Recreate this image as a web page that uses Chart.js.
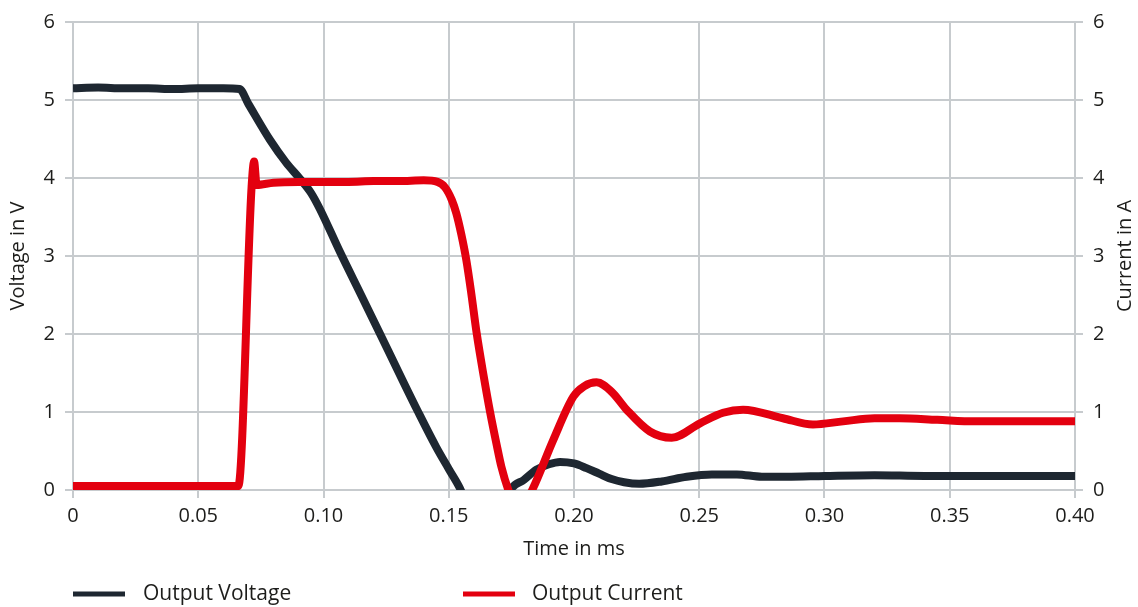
<!DOCTYPE html>
<html>
<head>
<meta charset="utf-8">
<script src="https://cdn.jsdelivr.net/npm/chart.js@4.4.1/dist/chart.umd.min.js"></script>
<style>
  html, body { margin: 0; padding: 0; background: #ffffff; }
  #wrap { width: 1138px; height: 607px; position: relative; }
</style>
</head>
<body>
<div id="wrap"><canvas id="c" width="1138" height="607"></canvas></div>
<script>
// ---- data ----
const voltageTime = [0, 0.01, 0.02, 0.03, 0.04, 0.05, 0.06, 0.0665, 0.0700, 0.0786, 0.0850, 0.0906, 0.0950, 0.0986, 0.1066, 0.1150, 0.1226, 0.1300, 0.1378, 0.1450, 0.1500, 0.1545, 0.1580, 0.1650, 0.1720, 0.1751, 0.1800, 0.1850, 0.1900, 0.1944, 0.2000, 0.2050, 0.2100, 0.2150, 0.2200, 0.2260, 0.2350, 0.2450, 0.2550, 0.2650, 0.2750, 0.2850, 0.3000, 0.3200, 0.3400, 0.3600, 0.3800, 0.4000];
const voltageValues = [5.15, 5.16, 5.15, 5.15, 5.14, 5.15, 5.15, 5.14, 4.95, 4.49, 4.20, 3.99, 3.81, 3.60, 3.05, 2.50, 2.00, 1.51, 1.00, 0.55, 0.27, 0.02, -0.25, -0.40, -0.20, 0.02, 0.13, 0.26, 0.33, 0.36, 0.34, 0.28, 0.21, 0.14, 0.10, 0.08, 0.11, 0.17, 0.20, 0.20, 0.17, 0.17, 0.18, 0.19, 0.18, 0.18, 0.18, 0.18];

const currentTime = [0, 0.01, 0.02, 0.03, 0.04, 0.05, 0.06, 0.0660, 0.0713, 0.0723, 0.0733, 0.0800, 0.0900, 0.1000, 0.1100, 0.1200, 0.1300, 0.1400, 0.1455, 0.1485, 0.1512, 0.1530, 0.1550, 0.1570, 0.1590, 0.1611, 0.1640, 0.1665, 0.1690, 0.1710, 0.1738, 0.1780, 0.1836, 0.1917, 0.1998, 0.2040, 0.2090, 0.2150, 0.2210, 0.2303, 0.2390, 0.2503, 0.2595, 0.2675, 0.2834, 0.2954, 0.3074, 0.3200, 0.3300, 0.3450, 0.3600, 0.3800, 0.4000];
const currentValues = [0.05, 0.05, 0.05, 0.05, 0.05, 0.05, 0.05, 0.05, 3.89, 4.21, 3.91, 3.94, 3.95, 3.95, 3.95, 3.96, 3.96, 3.97, 3.95, 3.88, 3.72, 3.55, 3.28, 2.95, 2.52, 2.02, 1.45, 1.00, 0.60, 0.30, 0.00, -0.30, 0.02, 0.64, 1.20, 1.33, 1.38, 1.26, 1.03, 0.75, 0.67, 0.855, 0.99, 1.03, 0.92, 0.84, 0.88, 0.92, 0.92, 0.90, 0.88, 0.88, 0.88];

const seriesNames = ['Output Voltage', 'Output Current'];
const seriesColors = ['#1e2731', '#e3000f'];
const xTitle = 'Time in ms';
const yLeftTitle = 'Voltage in V';
const yRightTitle = 'Current in A';

// ---- styling ----
const FONT = "'Open Sans', 'Noto Sans', sans-serif";
const TEXT = '#1d1d1b';
const GRID = '#c7cbce';

const toXY = (xs, ys) => xs.map((x, i) => ({ x: x, y: ys[i] }));

const legendPlugin = {
  id: 'bottomLegend',
  afterDraw(chart) {
    const ctx = chart.ctx;
    const items = [
      { x: 73, tx: 143 },
      { x: 463, tx: 532 }
    ];
    const y = 594;
    ctx.save();
    ctx.font = '21px ' + FONT;
    ctx.textBaseline = 'middle';
    ctx.textAlign = 'left';
    chart.data.datasets.forEach((ds, i) => {
      const it = items[i];
      ctx.strokeStyle = ds.borderColor;
      ctx.lineWidth = 5;
      ctx.lineCap = 'butt';
      ctx.beginPath();
      ctx.moveTo(it.x, y);
      ctx.lineTo(it.x + 52, y);
      ctx.stroke();
      ctx.fillStyle = TEXT;
      ctx.fillText(ds.label, it.tx, y);
    });
    // right axis title, reading bottom-to-top like the left one
    const area = chart.chartArea;
    ctx.font = '20px ' + FONT;
    ctx.translate(1125, (area.top + area.bottom) / 2);
    ctx.rotate(-Math.PI / 2);
    ctx.textAlign = 'center';
    ctx.fillText(yRightTitle, 0, 0);
    ctx.restore();
  }
};

new Chart(document.getElementById('c'), {
  type: 'line',
  data: {
    datasets: [
      {
        label: seriesNames[0],
        data: toXY(voltageTime, voltageValues),
        borderColor: seriesColors[0],
        backgroundColor: seriesColors[0],
        borderWidth: 8,
        pointRadius: 0,
        cubicInterpolationMode: 'monotone',
        yAxisID: 'y',
        clip: 0,
        order: 1
      },
      {
        label: seriesNames[1],
        data: toXY(currentTime, currentValues),
        borderColor: seriesColors[1],
        backgroundColor: seriesColors[1],
        borderWidth: 8,
        pointRadius: 0,
        cubicInterpolationMode: 'monotone',
        yAxisID: 'y1',
        clip: 0,
        order: 0
      }
    ]
  },
  options: {
    responsive: false,
    animation: false,
    events: [],
    layout: { padding: { top: 22, bottom: 46, left: 0, right: 0 } },
    plugins: {
      legend: { display: false },
      tooltip: { enabled: false }
    },
    scales: {
      x: {
        type: 'linear',
        min: 0,
        max: 0.4,
        afterFit: (s) => { s.height = 71; },
        grid: { color: GRID, lineWidth: 2, tickLength: 8, drawTicks: true },
        border: { color: GRID, width: 2 },
        ticks: {
          stepSize: 0.05,
          padding: 6,
          color: TEXT,
          font: { family: FONT, size: 20 },
          maxRotation: 0,
          callback: (v) => (Math.abs(v) < 1e-9 ? '0' : Number(v).toFixed(2))
        },
        title: {
          display: true,
          text: xTitle,
          color: TEXT,
          font: { family: FONT, size: 20 },
          padding: { top: 0, bottom: 0 }
        }
      },
      y: {
        position: 'left',
        min: 0,
        max: 6,
        afterFit: (s) => { s.width = 73; },
        grid: { color: GRID, lineWidth: 2, tickLength: 8 },
        border: { color: GRID, width: 2 },
        ticks: {
          stepSize: 1,
          padding: 10,
          color: TEXT,
          font: { family: FONT, size: 20 }
        },
        title: {
          display: true,
          text: yLeftTitle,
          color: TEXT,
          font: { family: FONT, size: 20 },
          padding: { top: 6, bottom: 0 }
        }
      },
      y1: {
        position: 'right',
        min: 0,
        max: 6,
        afterFit: (s) => { s.width = 63; },
        grid: { color: GRID, lineWidth: 2, tickLength: 8, drawOnChartArea: false },
        border: { color: GRID, width: 2 },
        ticks: {
          stepSize: 1,
          padding: 10,
          color: TEXT,
          font: { family: FONT, size: 20 }
        },
        title: { display: false }
      }
    }
  },
  plugins: [legendPlugin]
});
</script>
</body>
</html>
